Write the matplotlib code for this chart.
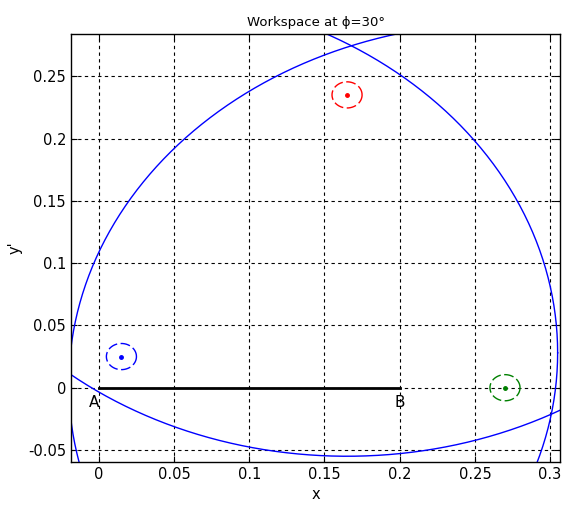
import numpy as np
import matplotlib.pyplot as plt

# platform vertices
px = [0.015, 0.165, 0.27]
py = [0.025, 0.235, 0.0]
colors = ['blue', 'red', 'green']

# centres of the big workspace circles (close to the vertices)
cx_big = [0.015, 0.165, 0.27]
cy_big = [0.028, 0.235, 0.003]
R = 0.29      # reach radius
r = 0.01      # small circle radius

# base segment A-B
base_x = [0.0, 0.2]
base_y = [0.0, 0.0]

fig = plt.figure(figsize=(5.67, 5.07), dpi=100)
ax = fig.add_axes([0.125, 0.0888, 0.863, 0.8442])

t = np.linspace(0, 2 * np.pi, 721)
for cx, cy in zip(cx_big, cy_big):
    ax.plot(cx + R * np.cos(t), cy + R * np.sin(t), color='#0000ff', lw=1)

for cx, cy, c in zip(px, py, colors):
    ax.plot(cx + r * np.cos(t), cy + 1.05 * r * np.sin(t), color=c, lw=1,
            linestyle=(0, (7, 2.5)))
    ax.plot(cx, cy, '.', color=c, ms=5)

ax.plot(base_x, base_y, color='black', lw=2)
ax.text(-0.003, -0.006, 'A', fontsize=11, va='top', ha='center')
ax.text(0.2, -0.006, 'B', fontsize=11, va='top', ha='center')

ax.set_xlim(-0.0186, 0.3067)
ax.set_ylim(-0.0596, 0.2839)
ax.set_xticks([0, 0.05, 0.1, 0.15, 0.2, 0.25, 0.3])
ax.set_xticklabels(['0', '0.05', '0.1', '0.15', '0.2', '0.25', '0.3'])
ax.set_yticks([-0.05, 0, 0.05, 0.1, 0.15, 0.2, 0.25])
ax.set_yticklabels(['-0.05', '0', '0.05', '0.1', '0.15', '0.2', '0.25'])
ax.grid(True, color='black', linestyle=(0, (3, 3)), lw=0.8)
ax.tick_params(labelsize=10.5, direction='in', length=4, top=True, right=True)
for s in ax.spines.values():
    s.set_linewidth(1)

ax.set_xlabel('x', fontsize=10.5)
ax.set_ylabel("y'", fontsize=10.5)
ax.set_title('Workspace at \u03d5=30\u00b0', fontsize=9.5)

fig.savefig('out.png')
